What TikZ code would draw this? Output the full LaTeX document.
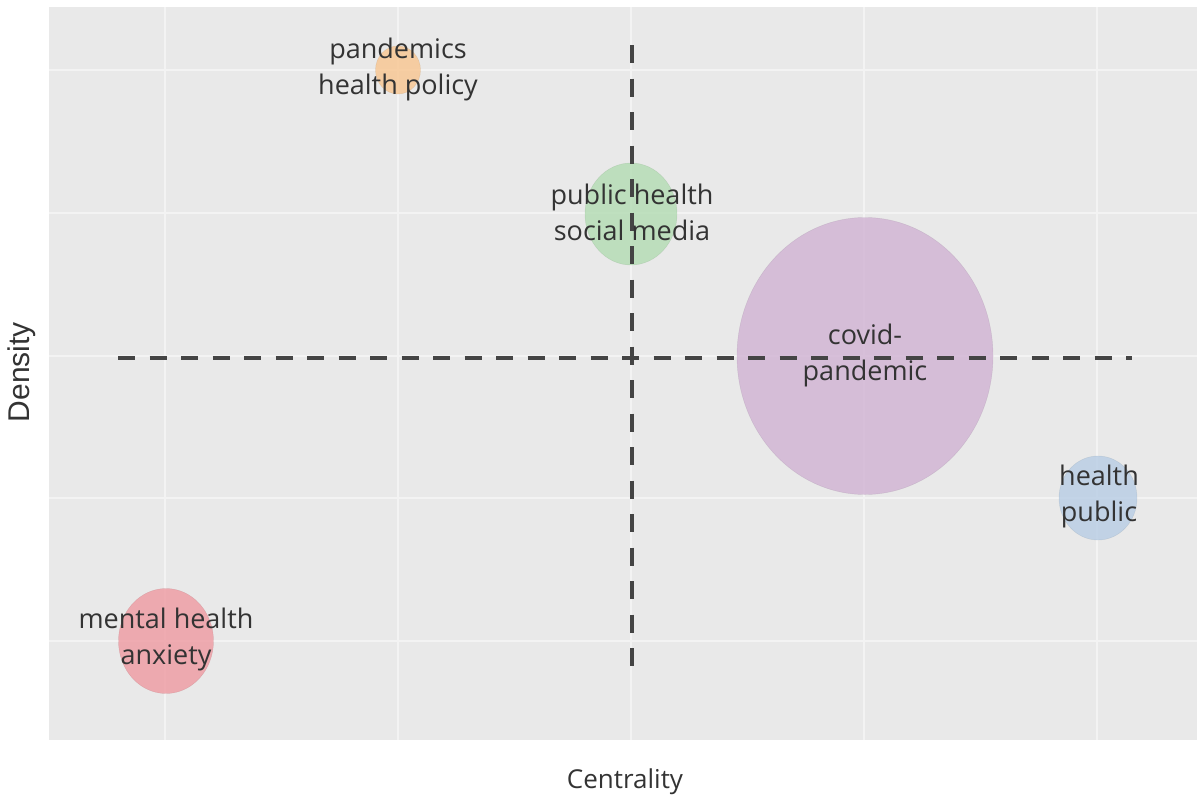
\documentclass[tikz,border=0pt]{standalone}
\usepackage{fontspec}
\setmainfont{Open Sans}
\newfontfamily\axisfont{Liberation Sans}
\usepackage{xcolor}
\usetikzlibrary{shapes.geometric}

\definecolor{panelgray}{HTML}{E9E9E9}
\definecolor{gridwhite}{HTML}{F3F3F3}
\definecolor{quadline}{HTML}{444444}
\definecolor{labelgray}{HTML}{333333}
\definecolor{cOrange}{HTML}{F8C58F}
\definecolor{cGreen}{HTML}{B2DCB2}
\definecolor{cPurple}{HTML}{D0B3D3}
\definecolor{cBlue}{HTML}{B7CDE4}
\definecolor{cRed}{HTML}{EE9AA1}

\begin{document}
\begin{tikzpicture}[x=1pt, y=-1pt,
    bubble/.style={ellipse, draw=#1!80!black, draw opacity=0.35, fill=#1,
                   fill opacity=0.8, inner sep=0pt},
    theme/.style={align=center, text=labelgray, font=\fontsize{27}{36}\selectfont},
    quadrant/.style={quadline, line width=3.5pt}]
  \useasboundingbox (0,0) rectangle (1200,801);
  \fill[panelgray] (49,7) rectangle (1197,740);
  \foreach \gx in {165,398,631,864,1097}
    \draw[gridwhite, line width=2pt] (\gx,7) -- (\gx,740);
  \foreach \gy in {70,213,356,498,641}
    \draw[gridwhite, line width=2pt] (49,\gy) -- (1197,\gy);

  % bubbles
  \node[bubble=cOrange, minimum width=45pt,  minimum height=48pt]  (B1) at (398,70)  {};
  \node[bubble=cGreen,  minimum width=92pt,  minimum height=102pt] (B2) at (631,214) {};
  \node[bubble=cPurple, minimum width=256pt, minimum height=277pt] (B3) at (865,356) {};
  \node[bubble=cBlue,   minimum width=78pt,  minimum height=84pt]  (B4) at (1098,498) {};
  \node[bubble=cRed,    minimum width=95pt,  minimum height=105pt] (B5) at (166,641) {};

  % quadrant lines
  \coordinate (Nq) at (632,45);
  \coordinate (Sq) at (632,671);
  \coordinate (Wq) at (118,358);
  \coordinate (Eq) at (1132,358);
  \draw[quadrant, dash pattern=on 18pt off 15.5pt] (Nq) -- (Sq);
  \draw[quadrant, dash pattern=on 17pt off 14.5pt] (Wq) -- (Eq);

  % labels
  \node[theme] (T1) at (398,69)  {pandemics\\health policy};
  \node[theme] (T2) at (632,212) {public health\\social media};
  \node[theme] (T3) at (865,355) {covid-\\pandemic};
  \node[theme] (T4) at (1099,496) {health\\public};
  \node[theme] (T5) at (166,639) {mental health\\anxiety};

  \node[text=labelgray, font=\fontsize{26}{30}\selectfont] (xlab) at (625,782) {Centrality};
  \node[text=labelgray, font=\axisfont\fontsize{30}{34}\selectfont, rotate=90] (ylab) at (22,372) {Density};
\end{tikzpicture}
\end{document}
